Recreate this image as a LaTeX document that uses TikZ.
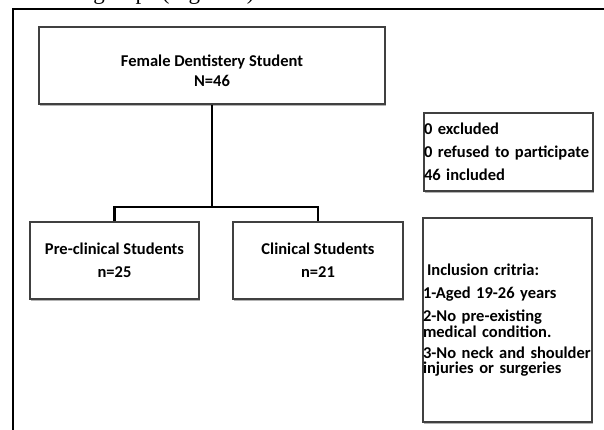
\documentclass[tikz,border=0pt]{standalone}
\usepackage{fontspec}
\setmainfont{Carlito}
\newfontfamily\paperfont{Liberation Serif}
\usetikzlibrary{positioning,shadows}

\tikzset{
  box/.style={draw=black!75, line width=1.2pt, fill=white, inner sep=0pt,
    drop shadow={shadow xshift=1.2pt, shadow yshift=-1.8pt, fill=black!50, opacity=.6},
    font=\bfseries\fontsize{16.5}{15.5}\selectfont},
  sidebox/.style={box, text width=169pt, minimum width=169pt, align=left},
  link/.style={line width=2.6pt, black}
}

\begin{document}
\begin{tikzpicture}[x=1pt,y=-1pt]
\useasboundingbox (0,0) rectangle (604,430);
% last line of the text above, cut off
\node[anchor=base west, inner sep=0, font=\paperfont\fontsize{23}{23}\selectfont] (textline) at (0,-0.8) {into three groups (Figure 1).};
% frame of the figure
\draw[line width=1.5pt] (13,431) -- (13,9) -- (605,9);

\node[box, minimum width=346, minimum height=77, align=center] (total) at (212,65.5) {\rule{0pt}{22pt}Female Dentistery Student\\[4pt]N=46};
\node[box, minimum width=169, minimum height=77, align=center] (pre) at (114.5,260.5) {Pre-clinical Students\\[7.5pt]n=25};
\node[box, minimum width=170, minimum height=77, align=center] (clin) at (318,260.5) {Clinical Students\\[7.5pt]n=21};

\node[sidebox, minimum height=78] (excl) at (508.5,152) {0 excluded\\[8pt]0 refused to participate\\[7.5pt]46 included};
\node[sidebox, minimum height=204] (crit) at (507.5,320) {\hspace*{4pt}Inclusion critria:\\[7.5pt]1-Aged 19-26 years\\[8pt]2-No pre-existing\\medical condition.\\[5.5pt]3-No neck and shoulder\\injuries or surgeries};

\coordinate (split) at (total.south |- 0,207);
\draw[link] (total.south) -- (split);
\draw[link] (pre.north) |- (split) -| (clin.north);
\end{tikzpicture}
\end{document}
